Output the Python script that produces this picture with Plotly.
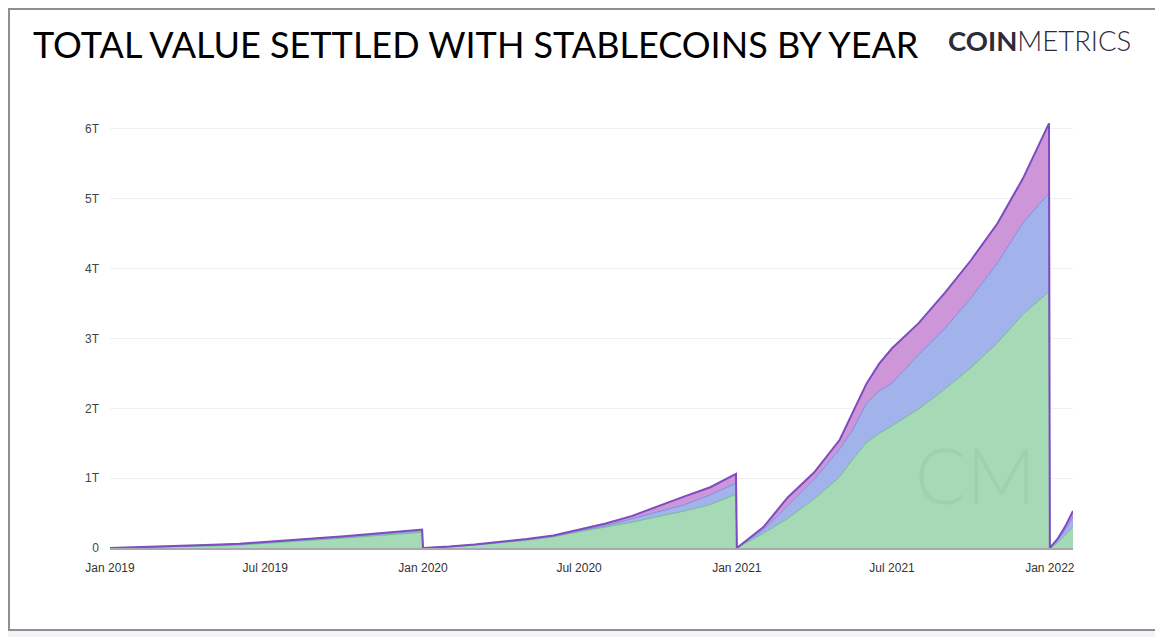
import plotly.graph_objects as go

# ---------------- data (values in trillions USD, cumulative within each year) ----------------
dates = [
    "2019-01-01", "2019-02-01", "2019-03-01", "2019-04-01", "2019-05-01", "2019-06-01", "2019-07-01",
    "2019-08-01", "2019-09-01", "2019-10-01", "2019-11-01", "2019-12-01", "2019-12-31",
    "2020-01-01", "2020-02-01", "2020-03-01", "2020-04-01", "2020-05-01", "2020-06-01", "2020-07-01",
    "2020-08-01", "2020-09-01", "2020-10-01", "2020-11-01", "2020-12-01", "2020-12-31",
    "2021-01-01", "2021-02-01", "2021-03-01", "2021-04-01", "2021-05-01", "2021-05-16", "2021-06-01",
    "2021-06-16", "2021-07-01", "2021-08-01", "2021-09-01", "2021-10-01", "2021-11-01", "2021-12-01",
    "2021-12-31",
    "2022-01-01", "2022-01-10", "2022-01-19", "2022-01-28",
]

# cumulative tops
green_top = [
    0, 0.005, 0.01, 0.018, 0.028, 0.042, 0.065, 0.088, 0.115, 0.142, 0.17, 0.198, 0.225,
    0, 0.015, 0.04, 0.075, 0.11, 0.16, 0.235, 0.30, 0.37, 0.45, 0.53, 0.62, 0.77,
    0, 0.21, 0.42, 0.70, 1.02, 1.27, 1.51, 1.64, 1.75, 1.99, 2.28, 2.58, 2.94, 3.35, 3.67,
    0, 0.07, 0.18, 0.30,
]
blue_top = [
    0, 0.008, 0.016, 0.025, 0.038, 0.052, 0.075, 0.10, 0.128, 0.157, 0.186, 0.215, 0.245,
    0, 0.018, 0.045, 0.083, 0.12, 0.17, 0.245, 0.32, 0.42, 0.52, 0.62, 0.76, 0.93,
    0, 0.26, 0.60, 0.98, 1.42, 1.69, 2.07, 2.25, 2.36, 2.77, 3.15, 3.58, 4.08, 4.66, 5.08,
    0, 0.11, 0.26, 0.45,
]
total_top = [
    0, 0.01, 0.02, 0.03, 0.045, 0.06, 0.085, 0.11, 0.14, 0.17, 0.20, 0.23, 0.265,
    0, 0.02, 0.05, 0.09, 0.13, 0.18, 0.26, 0.35, 0.46, 0.60, 0.74, 0.87, 1.06,
    0, 0.30, 0.72, 1.08, 1.55, 1.93, 2.35, 2.64, 2.86, 3.22, 3.66, 4.12, 4.65, 5.30, 6.08,
    0, 0.13, 0.31, 0.53,
]

series_names = ["Stablecoin group A", "Stablecoin group B", "Stablecoin group C"]
y_tick_vals = [0, 1, 2, 3, 4, 5, 6]
y_tick_text = ["0", "1T", "2T", "3T", "4T", "5T", "6T"]
x_tick_vals = ["2019-01-01", "2019-07-01", "2020-01-01", "2020-07-01", "2021-01-01", "2021-07-01", "2022-01-01"]
x_tick_text = ["Jan 2019", "Jul 2019", "Jan 2020", "Jul 2020", "Jan 2021", "Jul 2021", "Jan 2022"]

title_text = "TOTAL VALUE SETTLED WITH STABLECOINS BY YEAR"

# per-layer values for stacking
green_vals = green_top
blue_vals = [b - g for b, g in zip(blue_top, green_top)]
purple_vals = [t - b for t, b in zip(total_top, blue_top)]

# ---------------- figure ----------------
OFF = 8  # page body margin
W, H = 1163 - OFF, 637 - OFF
ML, MR, MT, MB = 110 - OFF, 90, 108 - OFF, 89
PW, PH = W - ML - MR, H - MT - MB

def px(x):
    return (x - OFF - ML) / PW

def py(y):
    return (H - MB - (y - OFF)) / PH

fig = go.Figure()
styles = [
    ("#a6d9b5", "#6fc08b", 1),
    ("#a2b2ea", "#7b8fe3", 1),
    ("#cc96d8", "#7d4cbf", 2),
]
for name, vals, (fc, lc, lw) in zip(series_names, [green_vals, blue_vals, purple_vals], styles):
    fig.add_trace(go.Scatter(
        x=dates, y=vals, name=name, stackgroup="one", mode="lines",
        line=dict(color=lc, width=lw), fillcolor=fc,
    ))

# frame
fig.add_shape(type="rect", xref="paper", yref="paper",
              x0=px(9), x1=px(1157), y0=py(630), y1=py(9),
              line=dict(color="#8e8e98", width=2), fillcolor="white", layer="below")

fig.add_annotation(xref="paper", yref="paper", x=px(31), y=py(44), xanchor="left", yanchor="middle",
                   text=title_text, showarrow=False,
                   font=dict(family="Lato", size=36, color="#000000"))
fig.add_annotation(xref="paper", yref="paper", x=px(1133), y=py(41), xanchor="right", yanchor="middle",
                   text="<b>COIN</b><span style='font-weight:300'>METRICS</span>", showarrow=False,
                   font=dict(family="Lato", size=27.5, color="#2b2b3a"))
# watermark
fig.add_annotation(xref="paper", yref="paper", x=px(975), y=py(474), xanchor="center", yanchor="middle",
                   text="CM", showarrow=False,
                   font=dict(family="Lato", size=76, color="rgba(60,110,80,0.08)", weight=300))

fig.update_layout(
    width=W, height=H,
    margin=dict(l=ML, r=MR, t=MT, b=MB),
    paper_bgcolor="#f3f3f5", plot_bgcolor="white",
    showlegend=False,
    font=dict(family="Liberation Sans, Arial", size=12, color="#444"),
)
fig.update_xaxes(
    type="date", range=["2019-01-01", "2022-01-28"],
    tickvals=x_tick_vals, ticktext=x_tick_text,
    showgrid=False, zeroline=False,
    showline=True, linecolor="#a8a8b0", linewidth=1.5,
    ticks="", ticklabelstandoff=8,
    tickfont=dict(size=12, color="#333"),
)
fig.update_yaxes(
    range=[0, 6.3], tickvals=y_tick_vals, ticktext=y_tick_text,
    showgrid=True, gridcolor="#f0f0f0", gridwidth=1, zeroline=False,
    ticks="", ticklabelstandoff=10,
    tickfont=dict(size=12, color="#444"),
)

fig.write_html("out.html")
